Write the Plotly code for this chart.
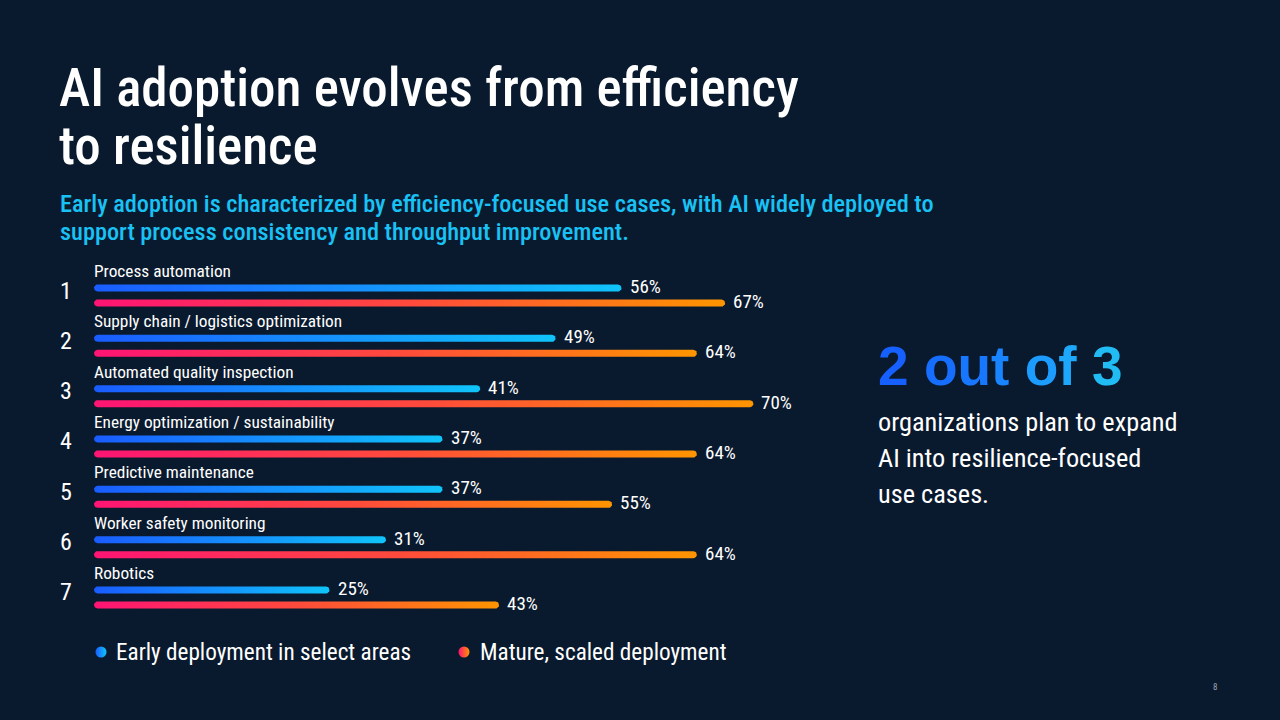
import numpy as np
import plotly.graph_objects as go

categories = ["Process automation", "Supply chain / logistics optimization",
              "Automated quality inspection", "Energy optimization / sustainability",
              "Predictive maintenance", "Worker safety monitoring", "Robotics"]
early = [56, 49, 41, 37, 37, 31, 25]
mature = [67, 64, 70, 64, 55, 64, 43]
series_names = ["Early deployment in select areas", "Mature, scaled deployment"]

BG = "#0a1a2e"
FONT = "Roboto, sans-serif"
W, H = 1280, 720

# axis geometry (pixels)
X0PX, XSCALE = 94.0, 9.42       # pixel of 0%, pixels per %
ROW0PX, ROWPX = 295.5, 50.33    # pixel of first row centre, pixels per row
x_lo = -X0PX / XSCALE
x_hi = x_lo + W / XSCALE
y_top = -ROW0PX / ROWPX
y_bot = y_top + H / ROWPX

BAR_H = 7.0
rx = (BAR_H / 2) / XSCALE
ry = (BAR_H / 2) / ROWPX
OFF = 7.5 / ROWPX


def px(x):
    return x / W


def py(y):
    return 1 - y / H


def rounded_bar(v, yc):
    tr = np.linspace(-np.pi / 2, np.pi / 2, 14)
    tl = np.linspace(np.pi / 2, 3 * np.pi / 2, 14)
    xr = (v - rx) + np.cos(tr) * rx
    yr = yc + np.sin(tr) * ry
    xl = rx + np.cos(tl) * rx
    yl = yc + np.sin(tl) * ry
    xs = np.concatenate([xr, xl, xr[:1]])
    ys = np.concatenate([yr, yl, yr[:1]])
    return xs, ys


def font(size, color="white", weight=450, family=FONT):
    return dict(family=family, size=size, color=color, weight=weight)


blue_scale = [[0, "#1a5cff"], [1, "#10c4fa"]]
pink_scale = [[0, "#ff1474"], [0.5, "#ff4a3c"], [1, "#ff9500"]]

fig = go.Figure()
annotations = []
for i, (cat, e, m) in enumerate(zip(categories, early, mature)):
    for val, yc, cs in ((e, i - OFF, blue_scale), (m, i + OFF, pink_scale)):
        xs, ys = rounded_bar(val, yc)
        fig.add_trace(go.Scatter(
            x=xs, y=ys, mode="lines", fill="toself", line=dict(width=0),
            fillgradient=dict(type="horizontal", colorscale=cs, start=0, stop=val),
            hoverinfo="skip", showlegend=False))
        annotations.append(dict(x=val, y=yc - 1.5 / ROWPX, xref="x", yref="y",
                                text=f"{val}%", showarrow=False, xanchor="left",
                                yanchor="middle", xshift=6, font=font(19)))
    annotations.append(dict(x=0, y=i - 24.5 / ROWPX, xref="x", yref="y", text=cat,
                            showarrow=False, xanchor="left", yanchor="middle",
                            xshift=-2, font=font(17.3)))
    annotations.append(dict(x=px(66), y=i - 5 / ROWPX, xref="paper", yref="y",
                            text=str(i + 1), showarrow=False, xanchor="center",
                            yanchor="middle", font=font(24, weight=400)))

# legend markers
fig.add_trace(go.Scatter(
    x=[(101 - X0PX) / XSCALE], y=[(652 - ROW0PX) / ROWPX], mode="markers",
    marker=dict(size=11, color="#1a5cff", line=dict(width=0),
                gradient=dict(type="horizontal", color="#10c4fa")),
    hoverinfo="skip", showlegend=False))
fig.add_trace(go.Scatter(
    x=[(464 - X0PX) / XSCALE], y=[(652 - ROW0PX) / ROWPX], mode="markers",
    marker=dict(size=11, color="#ff1474", line=dict(width=0),
                gradient=dict(type="horizontal", color="#ff9500")),
    hoverinfo="skip", showlegend=False))
annotations.append(dict(x=px(114), y=py(652), xref="paper", yref="paper",
                        text=series_names[0], showarrow=False, xanchor="left",
                        yanchor="middle", font=font(23.2)))
annotations.append(dict(x=px(478), y=py(652), xref="paper", yref="paper",
                        text=series_names[1], showarrow=False, xanchor="left",
                        yanchor="middle", font=font(23.2)))

# titles
for txt, y in (("AI adoption evolves from efficiency", 88), ("to resilience", 146)):
    annotations.append(dict(x=px(57), y=py(y), xref="paper", yref="paper", text=txt,
                            showarrow=False, xanchor="left", yanchor="middle",
                            font=font(53, weight=500)))
for txt, y in (("Early adoption is characterized by efficiency-focused use cases, with AI widely deployed to", 203),
               ("support process consistency and throughput improvement.", 232)):
    annotations.append(dict(x=px(58), y=py(y), xref="paper", yref="paper", text=txt,
                            showarrow=False, xanchor="left", yanchor="middle",
                            font=font(24.3, "#19c2f5", 500)))

for txt, y in (("organizations plan to expand", 422), ("AI into resilience-focused", 458), ("use cases.", 494)):
    annotations.append(dict(x=px(876), y=py(y), xref="paper", yref="paper", text=txt,
                            showarrow=False, xanchor="left", yanchor="middle",
                            font=font(26.3)))

annotations.append(dict(x=px(1215), y=py(687), xref="paper", yref="paper", text="8",
                        showarrow=False, xanchor="center", yanchor="middle",
                        font=font(9, "#9aa4b2", 400)))

# callout (regular width font, per-letter gradient)
callout = "2 out of 3"
grad = ["#1560ff", "#1566ff", "#166eff", "#1778ff", "#1984ff", "#1a90ff",
        "#1c9cff", "#1ea8fb", "#20b2f8", "#22bcf5"]
rich = "".join(f'<span style="color:{grad[k]}">{ch}</span>' for k, ch in enumerate(callout))
annotations.append(dict(x=px(876), y=py(366), xref="paper", yref="paper", text=rich,
                        showarrow=False, xanchor="left", yanchor="middle",
                        font=font(55, "#1a8cff", 700, "Liberation Sans, Arial, sans-serif")))

fig.update_layout(
    width=W, height=H, margin=dict(l=0, r=0, t=0, b=0),
    paper_bgcolor=BG, plot_bgcolor=BG,
    xaxis=dict(range=[x_lo, x_hi], visible=False, fixedrange=True),
    yaxis=dict(range=[y_bot, y_top], visible=False, fixedrange=True),
    annotations=annotations, showlegend=False)

# Use the condensed width of Roboto for the Roboto texts; nudge the font sizes
# imperceptibly so Plotly re-measures the texts with the condensed glyphs.
post = """
var s = document.createElement('style');
s.innerHTML = 'text[style*="Roboto"]{font-stretch:75% !important;}';
document.head.appendChild(s);
var gd = document.getElementById('{plot_id}');
var upd = {};
(gd.layout.annotations || []).forEach(function(a, i) {
  upd['annotations[' + i + '].font.size'] = a.font.size + 0.01;
});
Plotly.relayout(gd, upd);
"""
fig.write_html("out.html", post_script=post, config={"displayModeBar": False})
